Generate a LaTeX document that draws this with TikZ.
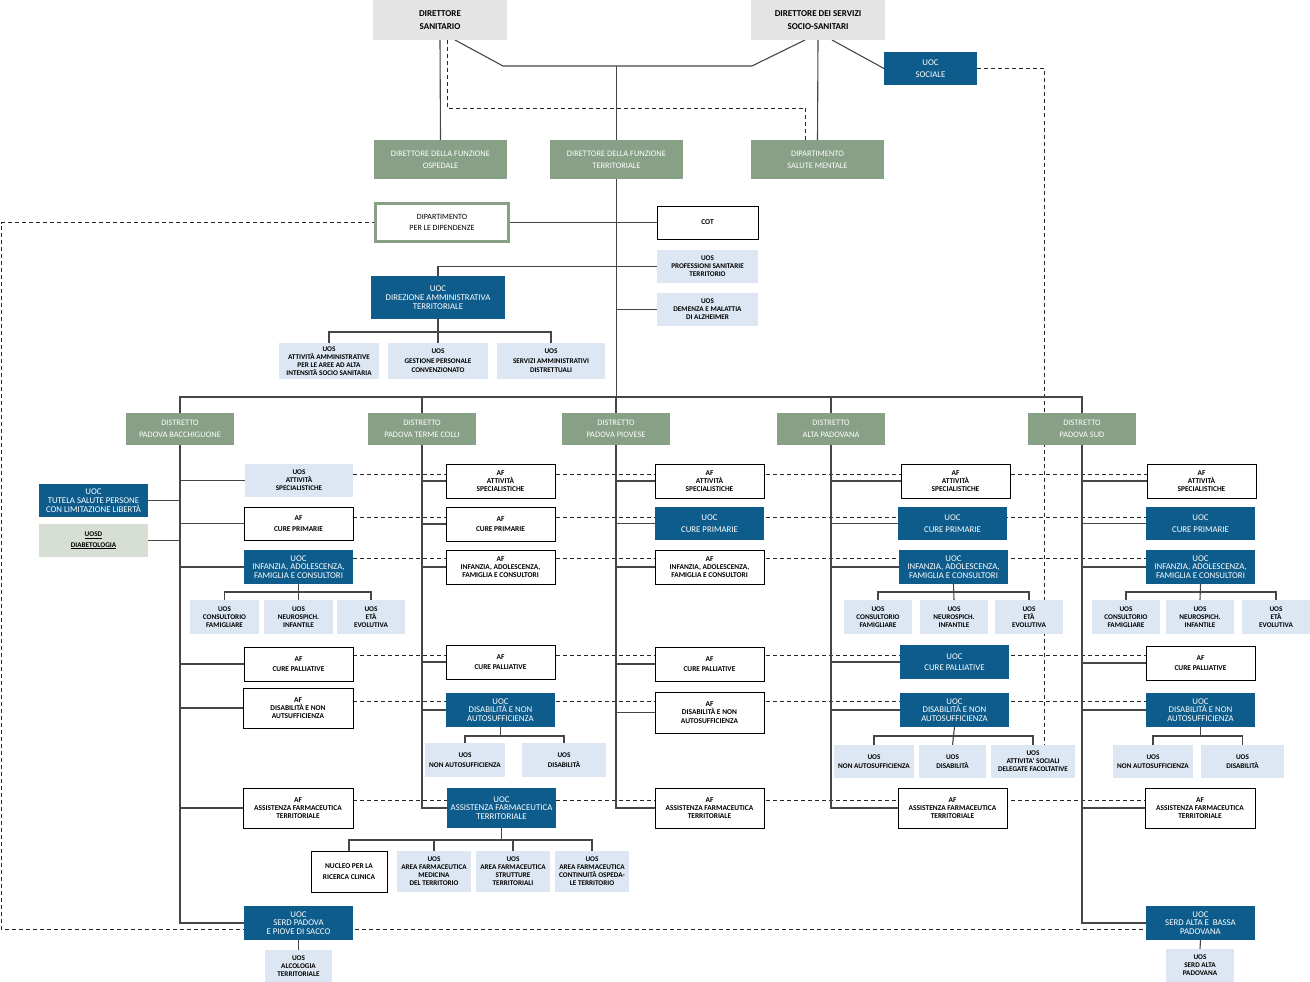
\documentclass[tikz,border=0pt]{standalone}
\usepackage{fontspec}
\setmainfont{Carlito}
\usetikzlibrary{backgrounds,calc}
\definecolor{cblue}{RGB}{14,92,140}
\definecolor{cgreen}{RGB}{135,160,134}
\definecolor{clblue}{RGB}{221,231,243}
\definecolor{cgray}{RGB}{228,228,228}
\definecolor{cdia}{RGB}{215,222,212}
\definecolor{cline}{RGB}{70,70,70}
\newcommand\bx[7]{\node[#1,minimum width={(#5-#3)*1pt},minimum height={(#6-#4)*1pt}] (#2) at ({(#3+#5)/2},{(#4+#6)/2}) {#7};}
\begin{document}
\begin{tikzpicture}[x=1pt,y=-1pt,
  base/.style={inner sep=0pt,outer sep=0pt,align=center},
  topbox/.style={base,fill=cgray,font=\bfseries\fontsize{9}{13}\selectfont},
  grn/.style={base,fill=cgreen,text=white,font=\fontsize{8.4}{12}\selectfont},
  uoc/.style={base,fill=cblue,text=white,font=\fontsize{8.8}{8.8}\selectfont},
  uocw/.style={uoc,font=\fontsize{8.8}{11.5}\selectfont},
  af/.style={base,draw=black,line width=0.9pt,fill=white,font=\bfseries\fontsize{7.4}{8.2}\selectfont},
  afw/.style={af,font=\bfseries\fontsize{7.4}{10.5}\selectfont},
  uos/.style={base,fill=clblue,font=\bfseries\fontsize{7.2}{8}\selectfont},
  uosw/.style={uos,font=\bfseries\fontsize{7.2}{9.5}\selectfont},
  dipbox/.style={base,draw=cgreen,line width=3pt,fill=white,font=\fontsize{8}{10.5}\selectfont},
  diabox/.style={base,fill=cdia,font=\bfseries\fontsize{7.2}{10.5}\selectfont},
  con/.style={draw=cline,line width=1.1pt},
  dsh/.style={draw=black!85,line width=0.9pt,dash pattern=on 4pt off 3pt}]
\useasboundingbox (0,0) rectangle (1310,982);
% top
\bx{topbox}{ds}{373}{0}{507}{40}{DIRETTORE\\SANITARIO}
\bx{topbox}{dss}{751}{0}{885}{40}{DIRETTORE DEI SERVIZI\\SOCIO-SANITARI}
\bx{uocw}{soc}{884}{52}{977}{85}{UOC\\SOCIALE}
\bx{grn}{osp}{374}{140}{507}{179}{DIRETTORE DELLA FUNZIONE\\OSPEDALE}
\bx{grn}{ter}{550}{140}{683}{179}{DIRETTORE DELLA FUNZIONE\\TERRITORIALE}
\bx{grn}{dsm}{751}{140}{884}{179}{DIPARTIMENTO\\SALUTE MENTALE}
\bx{dipbox}{dip}{375.5}{203.5}{508.5}{241.5}{DIPARTIMENTO\\PER LE DIPENDENZE}
\bx{af}{cot}{657}{206}{758}{239}{COT}
\bx{uos}{prof}{657}{250}{758}{283}{UOS\\PROFESSIONI SANITARIE\\TERRITORIO}
\bx{uos}{dem}{657}{293}{758}{326}{UOS\\DEMENZA E MALATTIA\\DI ALZHEIMER}
\bx{uoc}{dat}{371}{276}{505}{319}{UOC\\DIREZIONE AMMINISTRATIVA\\TERRITORIALE}
\bx{uos}{ua1}{279}{343}{379}{379}{UOS\\ATTIVITÀ AMMINISTRATIVE\\PER LE AREE AD ALTA\\INTENSITÀ SOCIO SANITARIA}
\bx{uosw}{ua2}{388}{343}{488}{379}{UOS\\GESTIONE PERSONALE\\CONVENZIONATO}
\bx{uosw}{ua3}{497}{343}{605}{379}{UOS\\SERVIZI AMMINISTRATIVI\\DISTRETTUALI}
% distretti
\bx{grn}{dA}{126}{413}{234}{445}{DISTRETTO\\PADOVA BACCHIGLIONE}
\bx{grn}{dB}{368}{413}{476}{445}{DISTRETTO\\PADOVA TERME COLLI}
\bx{grn}{dC}{562}{413}{670}{445}{DISTRETTO\\PADOVA PIOVESE}
\bx{grn}{dD}{777}{413}{885}{445}{DISTRETTO\\ALTA PADOVANA}
\bx{grn}{dE}{1028}{413}{1136}{445}{DISTRETTO\\PADOVA SUD}
% column A
\bx{uos}{a1}{245}{464}{353}{497}{UOS\\ATTIVITÀ\\SPECIALISTICHE}
\bx{afw}{a2}{244}{507}{353}{540}{AF\\CURE PRIMARIE}
\bx{uoc}{a3}{244}{550}{353}{584}{UOC\\INFANZIA, ADOLESCENZA,\\FAMIGLIA E CONSULTORI}
\bx{uos}{a3s1}{190}{600}{259}{634}{UOS\\CONSULTORIO\\FAMIGLIARE}
\bx{uos}{a3s2}{264}{600}{333}{634}{UOS\\NEUROSPICH.\\INFANTILE}
\bx{uos}{a3s3}{337}{600}{405}{634}{UOS\\ETÀ\\EVOLUTIVA}
\bx{afw}{a4}{244}{647}{353}{681}{AF\\CURE PALLIATIVE}
\bx{af}{a5}{243}{688}{353}{728}{AF\\DISABILITÀ E NON\\AUTSUFFICIENZA}
\bx{af}{a6}{243}{788}{353}{828}{AF\\ASSISTENZA FARMACEUTICA\\TERRITORIALE}
\bx{uoc}{a7}{244}{906}{353}{940}{UOC\\SERD PADOVA\\E PIOVE DI SACCO}
\bx{uos}{a7s}{265}{950}{332}{982}{UOS\\ALCOLOGIA\\TERRITORIALE}
\bx{uoc}{tut}{39}{484}{148}{517}{UOC\\TUTELA SALUTE PERSONE\\CON LIMITAZIONE LIBERTÀ}
\bx{diabox}{dia}{39}{524}{148}{557}{\underline{UOSD}\\\underline{DIABETOLOGIA}}
% column B
\bx{af}{b1}{446}{464}{555}{498}{AF\\ATTIVITÀ\\SPECIALISTICHE}
\bx{afw}{b2}{446}{507}{555}{541}{AF\\CURE PRIMARIE}
\bx{af}{b3}{446}{550}{555}{584}{AF\\INFANZIA, ADOLESCENZA,\\FAMIGLIA E CONSULTORI}
\bx{afw}{b4}{446}{645}{555}{679}{AF\\CURE PALLIATIVE}
\bx{uoc}{b5}{446}{693}{555}{727}{UOC\\DISABILITÀ E NON\\AUTOSUFFICIENZA}
\bx{uosw}{b5s1}{425}{743}{505}{777}{UOS\\NON AUTOSUFFICIENZA}
\bx{uosw}{b5s2}{522}{743}{606}{777}{UOS\\DISABILITÀ}
\bx{uoc}{b6}{447}{788}{556}{828}{UOC\\ASSISTENZA FARMACEUTICA\\TERRITORIALE}
\bx{afw}{b6s0}{311}{851}{387}{892}{NUCLEO PER LA\\RICERCA CLINICA}
\bx{uos}{b6s1}{397}{851}{471}{892}{UOS\\AREA FARMACEUTICA\\MEDICINA\\DEL TERRITORIO}
\bx{uos}{b6s2}{476}{851}{550}{892}{UOS\\AREA FARMACEUTICA\\STRUTTURE\\TERRITORIALI}
\bx{uos}{b6s3}{555}{851}{629}{892}{UOS\\AREA FARMACEUTICA\\CONTINUITÀ OSPEDA-\\LE TERRITORIO}
% column C
\bx{af}{c1}{655}{464}{764}{498}{AF\\ATTIVITÀ\\SPECIALISTICHE}
\bx{uocw}{c2}{655}{507}{764}{540}{UOC\\CURE PRIMARIE}
\bx{af}{c3}{655}{550}{764}{584}{AF\\INFANZIA, ADOLESCENZA,\\FAMIGLIA E CONSULTORI}
\bx{afw}{c4}{655}{647}{764}{681}{AF\\CURE PALLIATIVE}
\bx{af}{c5}{655}{692}{764}{733}{AF\\DISABILITÀ E NON\\AUTOSUFFICIENZA}
\bx{af}{c6}{655}{788}{764}{828}{AF\\ASSISTENZA FARMACEUTICA\\TERRITORIALE}
% column D
\bx{af}{d1}{901}{464}{1010}{498}{AF\\ATTIVITÀ\\SPECIALISTICHE}
\bx{uocw}{d2}{898}{507}{1007}{540}{UOC\\CURE PRIMARIE}
\bx{uoc}{d3}{899}{550}{1008}{584}{UOC\\INFANZIA, ADOLESCENZA,\\FAMIGLIA E CONSULTORI}
\bx{uos}{d3s1}{844}{600}{912}{634}{UOS\\CONSULTORIO\\FAMIGLIARE}
\bx{uos}{d3s2}{920}{600}{988}{634}{UOS\\NEUROSPICH.\\INFANTILE}
\bx{uos}{d3s3}{995}{600}{1063}{634}{UOS\\ETÀ\\EVOLUTIVA}
\bx{uocw}{d4}{900}{645}{1009}{679}{UOC\\CURE PALLIATIVE}
\bx{uoc}{d5}{900}{693}{1009}{727}{UOC\\DISABILITÀ E NON\\AUTOSUFFICIENZA}
\bx{uosw}{d5s1}{834}{745}{914}{778}{UOS\\NON AUTOSUFFICIENZA}
\bx{uosw}{d5s2}{919}{745}{986}{778}{UOS\\DISABILITÀ}
\bx{uos}{d5s3}{991}{745}{1075}{778}{UOS\\ATTIVITA' SOCIALI\\DELEGATE FACOLTATIVE}
\bx{af}{d6}{898}{788}{1007}{828}{AF\\ASSISTENZA FARMACEUTICA\\TERRITORIALE}
% column E
\bx{af}{e1}{1147}{464}{1256}{498}{AF\\ATTIVITÀ\\SPECIALISTICHE}
\bx{uocw}{e2}{1146}{507}{1255}{540}{UOC\\CURE PRIMARIE}
\bx{uoc}{e3}{1146}{550}{1255}{584}{UOC\\INFANZIA, ADOLESCENZA,\\FAMIGLIA E CONSULTORI}
\bx{uos}{e3s1}{1092}{600}{1160}{634}{UOS\\CONSULTORIO\\FAMIGLIARE}
\bx{uos}{e3s2}{1166}{600}{1234}{634}{UOS\\NEUROSPICH.\\INFANTILE}
\bx{uos}{e3s3}{1242}{600}{1310}{634}{UOS\\ETÀ\\EVOLUTIVA}
\bx{afw}{e4}{1146}{646}{1255}{680}{AF\\CURE PALLIATIVE}
\bx{uoc}{e5}{1146}{693}{1255}{727}{UOC\\DISABILITÀ E NON\\AUTOSUFFICIENZA}
\bx{uosw}{e5s1}{1113}{745}{1193}{778}{UOS\\NON AUTOSUFFICIENZA}
\bx{uosw}{e5s2}{1201}{745}{1284}{778}{UOS\\DISABILITÀ}
\bx{af}{e6}{1145}{788}{1255}{828}{AF\\ASSISTENZA FARMACEUTICA\\TERRITORIALE}
\bx{uoc}{e7}{1146}{906}{1255}{940}{UOC\\SERD ALTA E~ BASSA\\PADOVANA}
\bx{uos}{e7s}{1166}{949}{1234}{982}{UOS\\SERD ALTA\\PADOVANA}
% helper coordinates
\coordinate (j1) at (503,66);
\coordinate (j2) at (752,66);
\coordinate (bus) at (0,397);
\coordinate (aq) at (0,332);
\coordinate (ia) at (0,592);
\coordinate (ib) at (0,736);
\coordinate (ic) at (0,840);
\coordinate (dl) at (1,929);
\coordinate (r1) at (0,474);
\coordinate (r2) at (0,517);
\coordinate (r3) at (0,558);
\coordinate (r4) at (0,655);
\coordinate (r5) at (0,701);
\coordinate (r6) at (0,800);
\begin{scope}[on background layer]
\fill[white] (0,0) rectangle (1310,982);
% dashed
\draw[dsh] ([xshift=7pt]ds.south) -- ++(0,68) -| ([xshift=-12pt]dsm.north);
\draw[dsh] (soc.east) -| ([xshift=11pt]d5s3.north);
\draw[dsh] (dip.west) -| (dl) -- (dl -| e7.west);
\draw[dsh] (a1.east |- r1) -- (e1.west |- r1);
\draw[dsh] (a2.east |- r2) -- (e2.west |- r2);
\draw[dsh] (a3.east |- r3) -- (e3.west |- r3);
\draw[dsh] (a4.east |- r4) -- (e4.west |- r4);
\draw[dsh] (a5.east |- r5) -- (e5.west |- r5);
\draw[dsh] (a6.east |- r6) -- (e6.west |- r6);
% solid top
\draw[con] (ds.south) -- (osp.north);
\draw[con] (dss.south) -- (dsm.north);
\draw[con] ([xshift=15pt]ds.south) -- (j1) -- (j2) -- ([xshift=-13pt]dss.south);
\draw[con] (ter.north) -- (ter.north |- j1);
\draw[con] ([xshift=14pt]dss.south) -- (soc.west);
\draw[con] (ter.south) -- (ter.south |- bus);
\draw[con] (dip.east) -- (cot.west);
\draw[con] (dat.north) |- (prof.west);
\draw[con] (ter.south |- dem.west) -- (dem.west);
\draw[con] (dat.south) -- (ua2.north);
\draw[con] (ua1.north) -- (ua1.north |- aq) -- (ua3.north |- aq) -- (ua3.north);
% distretti bus
\draw[con] (dA.north) -- (dA.north |- bus) -- (dE.north |- bus) -- (dE.north);
\foreach \n in {dB,dC,dD} \draw[con] (\n.north) -- (\n.north |- bus);
% trunks
\draw[con] (dA.south) |- (a7.west);
\draw[con] (dB.south) |- (b6.west);
\draw[con] (dC.south) |- (c6.west);
\draw[con] (dD.south) |- (d6.west);
\draw[con] (dE.south) |- (e7.west);
\foreach \n in {a1,a2,a3,a4,a5,a6} \draw[con] (\n.west) -- (dA.south |- \n.west);
\foreach \n in {tut,dia} \draw[con] (\n.east) -- (dA.south |- \n.east);
\foreach \n in {b1,b2,b3,b4,b5} \draw[con] (\n.west) -- (dB.south |- \n.west);
\foreach \n in {c1,c2,c3,c4,c5} \draw[con] (\n.west) -- (dC.south |- \n.west);
\foreach \n in {d1,d2,d3,d4,d5} \draw[con] (\n.west) -- (dD.south |- \n.west);
\foreach \n in {e1,e2,e3,e4,e5,e6} \draw[con] (\n.west) -- (dE.south |- \n.west);
% sub groups
\draw[con] (a3.south) -- (a3s2.north);
\draw[con] (a3s1.north) -- (a3s1.north |- ia) -- (a3s3.north |- ia) -- (a3s3.north);
\draw[con] (d3.south) -- (d3s2.north);
\draw[con] (d3s1.north) -- (d3s1.north |- ia) -- (d3s3.north |- ia) -- (d3s3.north);
\draw[con] (e3.south) -- (e3s2.north);
\draw[con] (e3s1.north) -- (e3s1.north |- ia) -- (e3s3.north |- ia) -- (e3s3.north);
\draw[con] (b5.south) -- (b5.south |- ib);
\draw[con] (b5s1.north) -- (b5s1.north |- ib) -- (b5s2.north |- ib) -- (b5s2.north);
\draw[con] (d5.south) -- (d5s2.north);
\draw[con] (d5s1.north) -- (d5s1.north |- ib) -- (d5s3.north |- ib) -- (d5s3.north);
\draw[con] (e5.south) -- (e5.south |- ib);
\draw[con] (e5s1.north) -- (e5s1.north |- ib) -- (e5s2.north |- ib) -- (e5s2.north);
\draw[con] (b6.south) -- (b6.south |- ic);
\draw[con] (b6s0.north) -- (b6s0.north |- ic) -- (b6s3.north |- ic) -- (b6s3.north);
\draw[con] (b6s1.north) -- (b6s1.north |- ic);
\draw[con] (b6s2.north) -- (b6s2.north |- ic);
\draw[con] (a7.south) -- (a7s.north);
\draw[con] (e7.south) -- (e7s.north);
\end{scope}
\end{tikzpicture}
\end{document}
